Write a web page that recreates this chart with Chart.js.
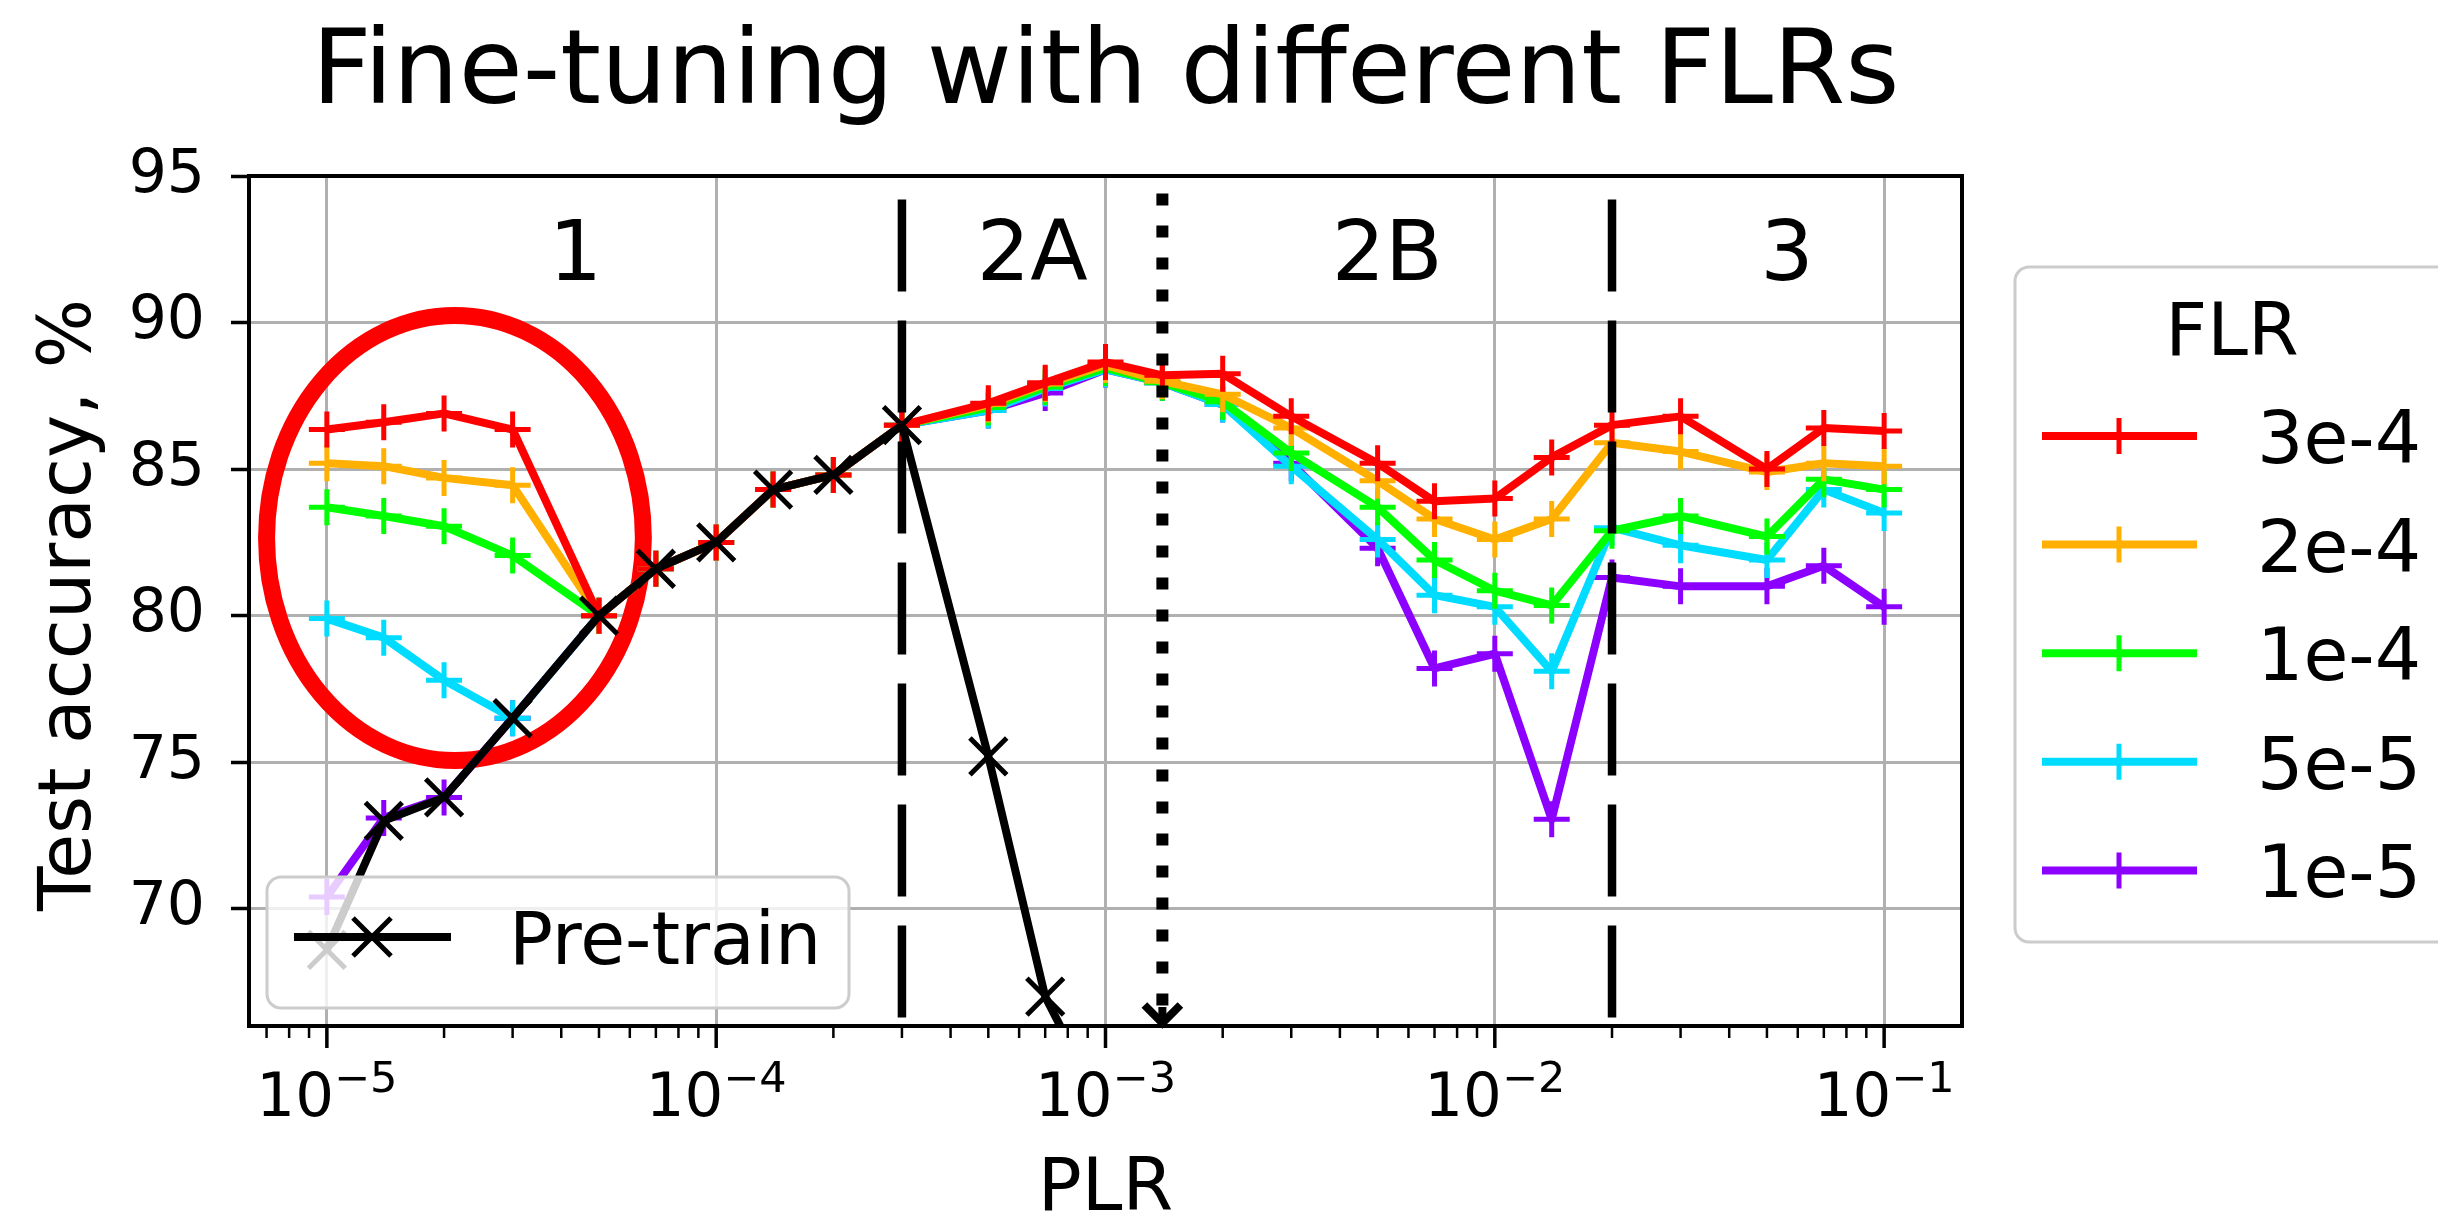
<!DOCTYPE html>
<html>
<head>
<meta charset="utf-8">
<title>Fine-tuning with different FLRs</title>
<script src="https://cdn.jsdelivr.net/npm/chart.js@4"></script>
<style>
  html, body { margin: 0; padding: 0; background: #fff; }
  canvas { display: block; }
</style>
</head>
<body>
<canvas id="chart" width="2438" height="1216"></canvas>
<script>
// PLR values (x axis)
const plr = [1e-5, 1.4e-5, 2e-5, 3e-5, 5e-5, 7e-5, 1e-4, 1.4e-4, 2e-4, 3e-4, 5e-4, 7e-4,
             1e-3, 1.4e-3, 2e-3, 3e-3, 5e-3, 7e-3, 1e-2, 1.4e-2, 2e-2, 3e-2, 5e-2, 7e-2, 1e-1];

// test accuracy for each fine-tuning LR
const flr3e4 = [86.35, 86.6, 86.9, 86.35, 80.0, 81.6, 82.5, 84.3, 84.8, 86.5, 87.25, 87.95,
                88.65, 88.2, 88.25, 86.8, 85.2, 83.9, 84.0, 85.4, 86.5, 86.8, 85.0, 86.4, 86.3];
const flr2e4 = [85.2, 85.1, 84.7, 84.45, 80.0, 81.6, 82.5, 84.3, 84.8, 86.5, 87.2, 87.9,
                88.55, 88.0, 87.55, 86.4, 84.6, 83.3, 82.6, 83.3, 85.9, 85.6, 84.9, 85.2, 85.1];
const flr1e4 = [83.7, 83.4, 83.05, 82.05, 80.0, 81.6, 82.5, 84.3, 84.8, 86.5, 87.1, 87.8,
                88.45, 87.95, 87.3, 85.55, 83.7, 81.9, 80.85, 80.35, 82.9, 83.4, 82.7, 84.65, 84.3];
const flr5e5 = [79.9, 79.25, 77.8, 76.5, 80.0, 81.6, 82.5, 84.3, 84.8, 86.5, 87.0, 87.75,
                88.4, 87.95, 87.2, 85.1, 82.6, 80.7, 80.3, 78.1, 83.0, 82.4, 81.9, 84.3, 83.5];
const flr1e5 = [70.4, 73.1, 73.8, 76.5, 80.0, 81.6, 82.5, 84.3, 84.8, 86.5, 87.0, 87.6,
                88.4, 87.95, 87.2, 85.2, 82.3, 78.2, 78.7, 73.05, 81.3, 81.0, 81.0, 81.7, 80.3];
// pre-training curve (last point falls below the axis)
const pretrain = [68.6, 73.0, 73.8, 76.5, 80.0, 81.6, 82.5, 84.3, 84.8, 86.5, 75.2, 67.0, 63.0];

const flrNames = ['3e-4', '2e-4', '1e-4', '5e-5', '1e-5'];
const flrSeries = [flr3e4, flr2e4, flr1e4, flr5e5, flr1e5];
const flrColors = ['#ff0000', '#ffb000', '#00ff00', '#00dcff', '#8c00ff'];

const yTicks = [70, 75, 80, 85, 90, 95];
const xDecades = [-5, -4, -3, -2, -1];

// regime boundaries and names
const phaseEdges = [3e-4, 1.4e-3, 2e-2];
const phaseNames = ['1', '2A', '2B', '3'];
const phaseLabelY = 91.45;
const dashTop = 94.2;
const dotTop = 94.4;

// highlighted region (red ring), in data units
const ringX = [7.0e-6, 6.5e-5];
const ringY = [75.06, 90.24];

const FONT = '"DejaVu Sans", sans-serif';

function roundBox(ctx, x, y, w, h, r) {
  ctx.beginPath();
  ctx.moveTo(x + r, y);
  ctx.lineTo(x + w - r, y);
  ctx.arcTo(x + w, y, x + w, y + r, r);
  ctx.lineTo(x + w, y + h - r);
  ctx.arcTo(x + w, y + h, x + w - r, y + h, r);
  ctx.lineTo(x + r, y + h);
  ctx.arcTo(x, y + h, x, y + h - r, r);
  ctx.lineTo(x, y + r);
  ctx.arcTo(x, y, x + r, y, r);
  ctx.closePath();
}

function plusMark(ctx, cx, cy, r, color) {
  ctx.strokeStyle = color;
  ctx.lineWidth = 5;
  ctx.beginPath();
  ctx.moveTo(cx - r, cy); ctx.lineTo(cx + r, cy);
  ctx.moveTo(cx, cy - r); ctx.lineTo(cx, cy + r);
  ctx.stroke();
}

function xMark(ctx, cx, cy, r, color) {
  ctx.strokeStyle = color;
  ctx.lineWidth = 5;
  ctx.beginPath();
  ctx.moveTo(cx - r, cy - r); ctx.lineTo(cx + r, cy + r);
  ctx.moveTo(cx + r, cy - r); ctx.lineTo(cx - r, cy + r);
  ctx.stroke();
}

const decor = {
  id: 'decor',
  beforeDatasetsDraw(chart) {
    const { ctx, scales: { x, y } } = chart;
    const x0 = x.getPixelForValue(ringX[0]), x1 = x.getPixelForValue(ringX[1]);
    const y0 = y.getPixelForValue(ringY[0]), y1 = y.getPixelForValue(ringY[1]);
    ctx.save();
    ctx.beginPath();
    ctx.ellipse((x0 + x1) / 2, (y0 + y1) / 2, (x1 - x0) / 2, (y0 - y1) / 2, 0, 0, Math.PI * 2);
    ctx.lineWidth = 17;
    ctx.strokeStyle = '#ff0000';
    ctx.stroke();
    ctx.restore();
  },
  afterDatasetsDraw(chart) {
    const { ctx, chartArea: area, scales: { x, y } } = chart;
    ctx.save();

    // regime boundaries
    ctx.strokeStyle = '#000';
    ctx.lineCap = 'butt';
    ctx.lineWidth = 8.5;
    ctx.setLineDash([92, 29]);
    [phaseEdges[0], phaseEdges[2]].forEach(v => {
      const px = x.getPixelForValue(v);
      ctx.beginPath();
      ctx.moveTo(px, y.getPixelForValue(dashTop));
      ctx.lineTo(px, area.bottom);
      ctx.stroke();
    });

    // dotted arrow
    const ax = x.getPixelForValue(phaseEdges[1]);
    const tip = area.bottom - 3;
    ctx.lineWidth = 12;
    ctx.setLineDash([12, 20]);
    ctx.beginPath();
    ctx.moveTo(ax, y.getPixelForValue(dotTop));
    ctx.lineTo(ax, tip - 6);
    ctx.stroke();
    ctx.setLineDash([]);
    ctx.lineWidth = 8;
    ctx.beginPath();
    ctx.moveTo(ax - 18, tip - 18);
    ctx.lineTo(ax, tip);
    ctx.lineTo(ax + 18, tip - 18);
    ctx.stroke();
    ctx.beginPath();
    ctx.moveTo(ax, tip - 16);
    ctx.lineTo(ax, tip);
    ctx.stroke();

    // regime labels
    const edges = [x.min, ...phaseEdges, x.max];
    ctx.fillStyle = '#000';
    ctx.font = '84px ' + FONT;
    ctx.textAlign = 'center';
    ctx.textBaseline = 'alphabetic';
    phaseNames.forEach((t, i) => {
      const mid = Math.sqrt(edges[i] * edges[i + 1]);
      ctx.fillText(t, x.getPixelForValue(mid), y.getPixelForValue(phaseLabelY));
    });

    // Pre-train legend (inside, lower left)
    const lx = area.left + 18, ly = area.bottom - 149;
    roundBox(ctx, lx, ly, 582, 131, 14);
    ctx.fillStyle = 'rgba(255,255,255,0.8)';
    ctx.fill();
    ctx.lineWidth = 3;
    ctx.strokeStyle = '#cccccc';
    ctx.stroke();
    const lrow = ly + 60;
    ctx.strokeStyle = '#000';
    ctx.lineWidth = 8;
    ctx.beginPath();
    ctx.moveTo(lx + 27, lrow); ctx.lineTo(lx + 184, lrow);
    ctx.stroke();
    xMark(ctx, lx + 105, lrow, 19, '#000');
    ctx.fillStyle = '#000';
    ctx.font = '73px ' + FONT;
    ctx.textAlign = 'left';
    ctx.fillText('Pre-train', lx + 242, lrow + 27);

    // FLR legend (outside, right)
    const fx = area.right + 53, fy = area.top + 91;
    roundBox(ctx, fx, fy, 440, 675, 14);
    ctx.fillStyle = 'rgba(255,255,255,0.8)';
    ctx.fill();
    ctx.lineWidth = 3;
    ctx.strokeStyle = '#cccccc';
    ctx.stroke();
    ctx.fillStyle = '#000';
    ctx.font = '73px ' + FONT;
    ctx.textAlign = 'center';
    ctx.fillText('FLR', fx + 217, fy + 88);
    flrNames.forEach((name, i) => {
      const ry = fy + 169 + i * 108.6;
      ctx.strokeStyle = flrColors[i];
      ctx.lineWidth = 8;
      ctx.beginPath();
      ctx.moveTo(fx + 27, ry); ctx.lineTo(fx + 182, ry);
      ctx.stroke();
      plusMark(ctx, fx + 104, ry, 18, flrColors[i]);
      ctx.fillStyle = '#000';
      ctx.textAlign = 'left';
      ctx.fillText(name, fx + 242, ry + 27);
    });

    // frame
    ctx.strokeStyle = '#000';
    ctx.lineWidth = 4;
    ctx.strokeRect(area.left, area.top, area.right - area.left, area.bottom - area.top);

    // x ticks (major + minor) and mathtext-like labels
    for (let e = -6; e <= -1; e++) {
      for (let m = 1; m <= 9; m++) {
        const v = m * Math.pow(10, e);
        if (v < x.min || v > x.max) continue;
        const px = x.getPixelForValue(v);
        ctx.lineWidth = m === 1 ? 3.5 : 2.5;
        ctx.beginPath();
        ctx.moveTo(px, area.bottom);
        ctx.lineTo(px, area.bottom + (m === 1 ? 22 : 12));
        ctx.stroke();
      }
    }
    ctx.fillStyle = '#000';
    ctx.textAlign = 'left';
    xDecades.forEach(e => {
      const px = x.getPixelForValue(Math.pow(10, e));
      ctx.font = '61px ' + FONT;
      const w1 = ctx.measureText('10').width;
      const sup = '\u2212' + (-e);
      ctx.font = '43px ' + FONT;
      const w2 = ctx.measureText(sup).width;
      const sx = px - (w1 + w2) / 2;
      ctx.font = '61px ' + FONT;
      ctx.fillText('10', sx, area.bottom + 90);
      ctx.font = '43px ' + FONT;
      ctx.fillText(sup, sx + w1, area.bottom + 66);
    });

    // axis titles
    ctx.font = '73px ' + FONT;
    ctx.textAlign = 'center';
    ctx.fillText('PLR', (area.left + area.right) / 2, area.bottom + 184);
    ctx.save();
    ctx.translate(90, (area.top + area.bottom) / 2 + 4);
    ctx.rotate(-Math.PI / 2);
    ctx.fillText('Test accuracy, %', 0, 0);
    ctx.restore();

    // title
    ctx.font = '104px ' + FONT;
    ctx.fillText('Fine-tuning with different FLRs', (area.left + area.right) / 2, 103);

    ctx.restore();
  }
};

const datasets = [{
  label: 'Pre-train',
  data: pretrain.map((v, i) => ({ x: plr[i], y: v })),
  borderColor: '#000',
  backgroundColor: '#000',
  borderWidth: 8,
  borderJoinStyle: 'round',
  pointStyle: 'crossRot',
  pointRadius: 26,
  pointBorderWidth: 5,
  tension: 0
}];
flrSeries.forEach((s, i) => {
  datasets.push({
    label: flrNames[i],
    data: s.map((v, j) => ({ x: plr[j], y: v })),
    borderColor: flrColors[i],
    backgroundColor: flrColors[i],
    borderWidth: 8,
    borderJoinStyle: 'round',
    pointStyle: 'cross',
    pointRadius: 18,
    pointBorderWidth: 5,
    tension: 0
  });
});

new Chart(document.getElementById('chart'), {
  type: 'line',
  data: { datasets },
  plugins: [decor],
  options: {
    responsive: false,
    animation: false,
    devicePixelRatio: 1,
    events: [],
    layout: { padding: { top: 176, right: 476, left: 0, bottom: 0 } },
    plugins: {
      legend: { display: false },
      tooltip: { enabled: false },
      title: { display: false }
    },
    scales: {
      x: {
        type: 'logarithmic',
        min: Math.pow(10, -5.2),
        max: Math.pow(10, -0.8),
        afterBuildTicks: s => { s.ticks = xDecades.map(e => ({ value: Math.pow(10, e) })); },
        afterFit: s => { s.height = 190; },
        ticks: { display: false },
        grid: { color: '#b0b0b0', lineWidth: 3, drawTicks: false },
        border: { display: false }
      },
      y: {
        min: 66,
        max: 95,
        afterBuildTicks: s => { s.ticks = yTicks.map(v => ({ value: v })); },
        afterFit: s => { s.width = 249; },
        ticks: { font: { family: 'DejaVu Sans', size: 60 }, color: '#000', padding: 26 },
        grid: { color: '#b0b0b0', lineWidth: 3, tickLength: 18, tickColor: '#000', tickWidth: 3.5 },
        border: { display: false }
      }
    }
  }
});
</script>
</body>
</html>
